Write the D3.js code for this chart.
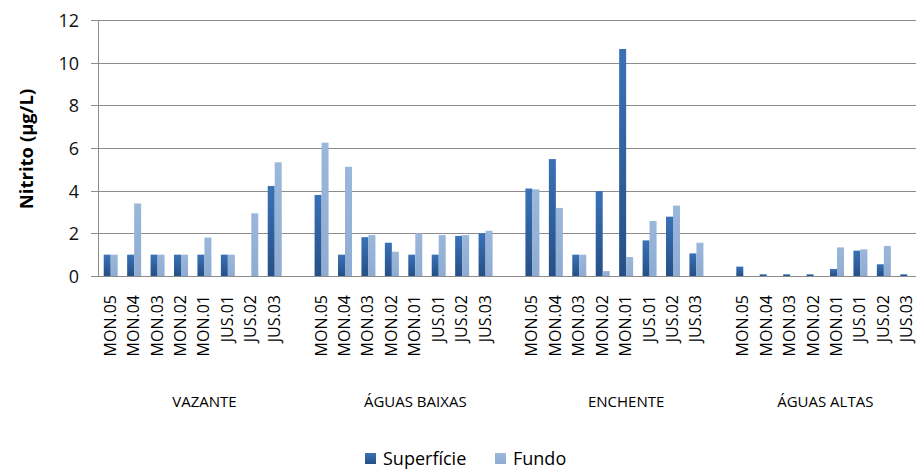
<!DOCTYPE html>
<html>
<head>
<meta charset="utf-8">
<script src="https://cdn.jsdelivr.net/npm/d3@7"></script>
<style>
  body { margin: 0; background: #fff; }
  svg { display: block; font-family: "Open Sans", sans-serif; }
</style>
</head>
<body>
<svg id="chart" width="916" height="471"></svg>
<script>
// stations inside each hydrological period
const stations = ["MON.05", "MON.04", "MON.03", "MON.02", "MON.01", "JUS.01", "JUS.02", "JUS.03"];
const periods = ["VAZANTE", "ÁGUAS BAIXAS", "ENCHENTE", "ÁGUAS ALTAS"];
const seriesNames = ["Superfície", "Fundo"];

// nitrite (µg/L), one row per period
const superficie = [
	[1.0, 1.0, 1.0, 1.0, 1.0, 1.0, 0, 4.22],
	[3.8, 1.0, 1.82, 1.56, 1.0, 1.0, 1.88, 2.0],
	[4.1, 5.48, 1.0, 3.98, 10.64, 1.67, 2.78, 1.06],
	[0.44, 0.08, 0.08, 0.08, 0.33, 1.19, 0.55, 0.08]
];
const fundo = [
	[1.0, 3.4, 1.0, 1.0, 1.8, 1.0, 2.94, 5.33],
	[6.25, 5.12, 1.92, 1.14, 2.0, 1.92, 1.92, 2.12],
	[4.06, 3.19, 1.0, 0.23, 0.89, 2.58, 3.3, 1.56],
	[0, 0, 0, 0, 1.34, 1.25, 1.41, 0]
];
const yTicks = [0, 2, 4, 6, 8, 10, 12];

const svg = d3.select("#chart");
const plot = { left: 99, right: 919, top: 20, bottom: 276 };

// build category keys, one blank slot after each period except the last
let cats = [];
let rows = [];
periods.forEach((p, gi) => {
	stations.forEach((s, si) => {
		let key = p + "|" + s;
		cats.push(key);
		rows.push({ key: key, period: p, station: s, values: [superficie[gi][si], fundo[gi][si]] });
	});
	if (gi < periods.length - 1) cats.push("gap" + gi);
});

const x = d3.scaleBand().domain(cats).range([plot.left, plot.right])
	.paddingInner(0.403).paddingOuter(0.2015);
const xs = d3.scaleBand().domain(seriesNames).range([0, x.bandwidth()]);
const y = d3.scaleLinear().domain([0, 12]).range([plot.bottom, plot.top]);

// gradients for the bars
const defs = svg.append("defs");
const gradDark = defs.append("linearGradient").attr("id", "gDark")
	.attr("x1", 0).attr("y1", 0).attr("x2", 0).attr("y2", 1);
gradDark.append("stop").attr("offset", "0%").attr("stop-color", "#3a72b8");
gradDark.append("stop").attr("offset", "100%").attr("stop-color", "#254f86");
const gradLight = defs.append("linearGradient").attr("id", "gLight")
	.attr("x1", 0).attr("y1", 0).attr("x2", 0).attr("y2", 1);
gradLight.append("stop").attr("offset", "0%").attr("stop-color", "#9bb8db");
gradLight.append("stop").attr("offset", "100%").attr("stop-color", "#8eabd2");
const fills = { "Superfície": "url(#gDark)", "Fundo": "url(#gLight)" };

// gridlines and ticks
svg.append("g").selectAll("line")
	.data(yTicks)
	.enter().append("line")
	.attr("x1", plot.left - 8).attr("x2", 916)
	.attr("y1", d => Math.round(y(d)) + 0.5).attr("y2", d => Math.round(y(d)) + 0.5)
	.style("stroke", "#8c8c8c").style("stroke-width", 1);

svg.append("line")
	.attr("x1", plot.left - 0.5).attr("x2", plot.left - 0.5)
	.attr("y1", y(12)).attr("y2", y(0) + 1)
	.style("stroke", "#8c8c8c");

svg.append("g").selectAll("text")
	.data(yTicks)
	.enter().append("text")
	.attr("x", 79).attr("y", d => y(d))
	.attr("text-anchor", "end").attr("dominant-baseline", "central")
	.style("font-size", "18px").style("fill", "#111")
	.text(d => d);

svg.append("text")
	.attr("transform", "translate(25," + (y(6) + 1) + ") rotate(-90)")
	.attr("text-anchor", "middle").attr("dominant-baseline", "central")
	.style("font-size", "18.5px").style("font-weight", "bold")
	.text("Nitrito (µg/L)");

// bars
const groups = svg.append("g").selectAll("g")
	.data(rows)
	.enter().append("g")
	.attr("transform", d => "translate(" + x(d.key) + ",0)");

groups.selectAll("rect")
	.data(d => d.values.map((v, i) => ({ name: seriesNames[i], value: v })))
	.enter().append("rect")
	.attr("x", d => xs(d.name))
	.attr("width", xs.bandwidth())
	.attr("y", d => y(d.value))
	.attr("height", d => y(0) - y(d.value))
	.attr("fill", d => fills[d.name]);

// station labels
svg.append("g").selectAll("text")
	.data(rows)
	.enter().append("text")
	.attr("transform", d => "translate(" + (x(d.key) + x.bandwidth() / 2 - 1) + ",295) rotate(-90)")
	.attr("text-anchor", "end").attr("dominant-baseline", "central")
	.style("font-size", "16px")
	.text(d => d.station);

// period labels, centred over stations plus trailing blank slot
svg.append("g").selectAll("text")
	.data(periods)
	.enter().append("text")
	.attr("x", (p, gi) => {
		let keys = cats.filter(c => c.startsWith(p + "|"));
		if (gi < periods.length - 1) keys.push("gap" + gi);
		let xsPos = keys.map(k => x(k) + x.bandwidth() / 2);
		return d3.mean(xsPos);
	})
	.attr("y", 407)
	.attr("text-anchor", "middle")
	.style("font-size", "15px")
	.text(d => d);

// legend
const legend = svg.append("g");
const legendItems = [
	{ name: "Superfície", x: 365, tx: 383 },
	{ name: "Fundo", x: 495, tx: 513 }
];
legend.selectAll("rect")
	.data(legendItems)
	.enter().append("rect")
	.attr("x", d => d.x).attr("y", 453)
	.attr("width", 11).attr("height", 11)
	.attr("fill", d => fills[d.name]);
legend.selectAll("text")
	.data(legendItems)
	.enter().append("text")
	.attr("x", d => d.tx).attr("y", 465)
	.style("font-size", "18px")
	.text(d => d.name);
</script>
</body>
</html>
